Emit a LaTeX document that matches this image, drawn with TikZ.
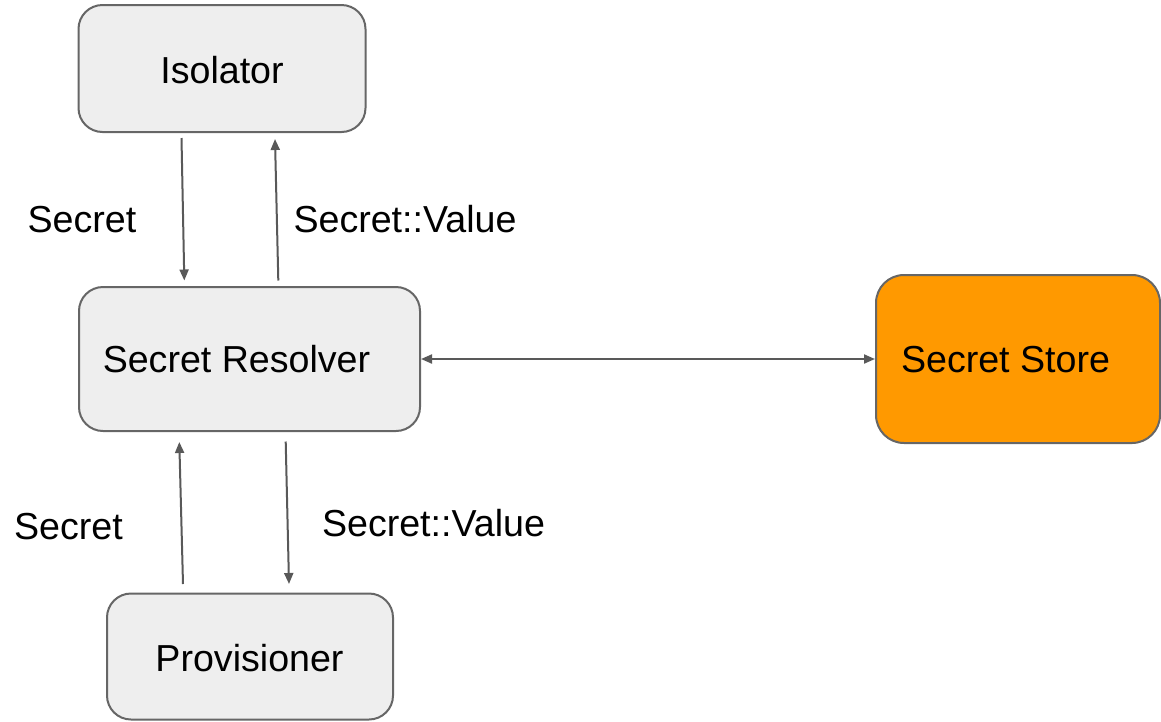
\documentclass[tikz,border=0pt]{standalone}
\usepackage{fontspec}
\setmainfont{Liberation Sans}
\usetikzlibrary{arrows.meta}
\definecolor{boxfill}{HTML}{EEEEEE}
\definecolor{boxline}{HTML}{666666}
\definecolor{storefill}{HTML}{FF9900}
\definecolor{wire}{HTML}{595959}
\begin{document}
\begin{tikzpicture}[x=1pt,y=-1pt,
  box/.style={draw=boxline,line width=2pt,fill=boxfill,rounded corners=24pt,inner sep=0pt},
  txt/.style={font=\fontsize{37.6}{44}\selectfont,anchor=base,inner sep=0pt},
  flow/.style={draw=wire,line width=2pt,-{Triangle[length=11pt,width=9pt]}},
  both/.style={draw=wire,line width=2pt,{Triangle[length=11pt,width=9pt]}-{Triangle[length=11pt,width=9pt]}}]
\useasboundingbox (0,0) rectangle (1161,721);

% boxes
\node[box,minimum width=287pt,minimum height=127pt] (iso) at (222,68.5) {};
\node[box,minimum width=341pt,minimum height=144pt] (res) at (249.5,359) {};
\node[box,minimum width=286pt,minimum height=126pt] (prov) at (250,656.5) {};
\node[box,fill=storefill,rounded corners=28pt,minimum width=284pt,minimum height=168pt] (store) at (1018,359) {};

% box captions
\node[txt] (isoT) at (222,83) {Isolator};
\node[txt] (resT) at (236.5,372.5) {Secret Resolver};
\node[txt] (storeT) at (1005.5,372) {Secret Store};
\node[txt] (provT) at (249.5,671) {Provisioner};

% arrow end points
\coordinate (a1s) at (181.5,138);
\coordinate (a1e) at (184.3,280.5);
\coordinate (a2s) at (278.3,280.5);
\coordinate (a2e) at (275,139);
\coordinate (a3s) at (183,584);
\coordinate (a3e) at (179.3,442);
\coordinate (a4s) at (285.7,441.5);
\coordinate (a4e) at (289,584);

% connectors
\draw[flow] (a1s) -- (a1e);
\draw[flow] (a2s) -- (a2e);
\draw[flow] (a3s) -- (a3e);
\draw[flow] (a4s) -- (a4e);
\draw[both] (res.east) -- (store.west);

% connector labels
\node[txt] (l1) at (82,232.5) {Secret};
\node[txt] (l2) at (405,232.5) {Secret::Value};
\node[txt] (l3) at (68.5,539.5) {Secret};
\node[txt] (l4) at (433.5,536.5) {Secret::Value};
\end{tikzpicture}
\end{document}
